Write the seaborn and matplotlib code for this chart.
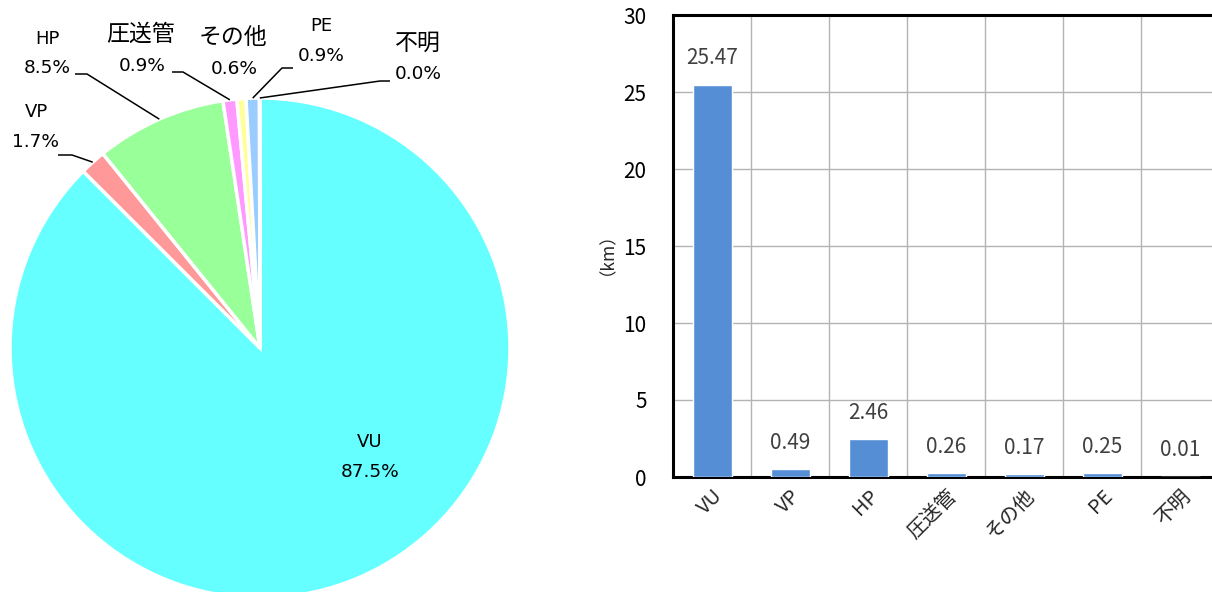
import numpy as np
import matplotlib
matplotlib.use("Agg")
import matplotlib.pyplot as plt
import seaborn as sns

# Pipe length by material
categories = ["VU", "VP", "HP", "圧送管", "その他", "PE", "不明"]
lengths_km = [25.47, 0.49, 2.46, 0.26, 0.17, 0.25, 0.01]
pie_colors = ["#66FFFF", "#FF9999", "#99FF99", "#FF99FF", "#FFFF99", "#99CCFF", "#CCCCFF"]
bar_color = "#558ED5"
yticks = [0, 5, 10, 15, 20, 25, 30]

sns.set_style("white")
plt.rcParams["font.family"] = ["Noto Sans CJK JP", "DejaVu Sans"]
LATIN = ["DejaVu Sans", "Noto Sans CJK JP"]

W, H = 1212, 592
fig = plt.figure(figsize=(W / 100, H / 100), dpi=100)

# ---------------- pie ----------------
R = 250.0
cx, cy = 260.0, 348.0  # pixel centre, measured from top-left
axp = fig.add_axes([(cx - R) / W, (H - cy - R) / H, 2 * R / W, 2 * R / H])
wedges, _ = axp.pie(
    lengths_km, colors=pie_colors, startangle=90, counterclock=False,
    wedgeprops=dict(edgecolor="white", linewidth=2.5),
)
axp.set_xlim(-1, 1)
axp.set_ylim(-1, 1)
axp.set_aspect("equal")
axp.axis("off")

total = sum(lengths_km)
pcts = [f"{100 * v / total:.1f}%" for v in lengths_km]


def px(x, y):
    """pixel position (from top-left) -> pie data coords"""
    return (x - cx) / R, (cy - y) / R


def mid_point(w, r=1.0):
    a = np.deg2rad((w.theta1 + w.theta2) / 2)
    return r * np.cos(a), r * np.sin(a)


# label layout: (name pos, pct pos, leader elbow points)
layout = {
    "VU": ((370, 442), (370, 472), None),
    "VP": ((36, 112), (36, 142), [(58, 155), (72, 155)]),
    "HP": ((47, 39), (47, 68), [(75, 74), (87, 74)]),
    "圧送管": ((141, 34), (142, 66), [(172, 72), (183, 72)]),
    "その他": ((233, 38), (234, 69), None),
    "PE": ((321, 26), (321, 56), [(293, 68), (282, 68)]),
    "不明": ((418, 43), (418, 74), [(390, 81), (380, 81)]),
}

for i, cat in enumerate(categories):
    npos, ppos, leader = layout[cat]
    is_cjk = cat in ("圧送管", "その他", "不明")
    if is_cjk:
        axp.text(*px(*npos), cat, ha="center", va="center",
                 fontsize=16.5, color="#000000")
    else:
        axp.text(*px(*npos), cat, ha="center", va="center",
                 fontsize=13, family=LATIN, color="#000000")
    axp.text(*px(*ppos), pcts[i], ha="center", va="center",
             fontsize=13.3, family=LATIN, color="#000000")
    if leader:
        pts = [px(*p) for p in leader] + [mid_point(wedges[i], 1.0)]
        xs, ys = zip(*pts)
        axp.plot(xs, ys, color="black", lw=1.1, clip_on=False,
                 solid_capstyle="butt")

# ---------------- bars ----------------
left, top, bottom = 673, 15, 477
cat_w = 78
axb = fig.add_axes([left / W, (H - bottom) / H, 7 * cat_w / W, (bottom - top) / H])
sns.barplot(x=categories, y=lengths_km, color=bar_color, width=0.5,
            saturation=1, ax=axb, zorder=3)
axb.set_xlim(-0.5, 6.5)
axb.set_ylim(0, 30)
axb.set_yticks(yticks)
axb.set_xticks(np.arange(0.5, 6.5, 1), minor=True)
axb.grid(True, which="minor", axis="x", color="#B3B3B3", lw=1.0, zorder=0)
axb.grid(True, which="major", axis="y", color="#B3B3B3", lw=1.0, zorder=0)
axb.grid(False, which="major", axis="x")
axb.set_axisbelow(True)
for s in axb.spines.values():
    s.set_visible(True)
    s.set_color("black")
    s.set_linewidth(2.2)

axb.tick_params(axis="y", length=0, pad=19, labelsize=15, labelcolor="black")
axb.tick_params(axis="x", which="both", length=0, pad=6, labelsize=14.5)
plt.setp(axb.get_xticklabels(), rotation=45, ha="right", rotation_mode="anchor")
axb.set_xlabel("")
axb.set_ylabel("（km）", fontsize=12.5, rotation=90, labelpad=0)
axb.yaxis.set_label_coords(-0.12, 0.503)

for i, v in enumerate(lengths_km):
    axb.annotate(f"{v:.2f}", (i, v), xytext=(0, 19), textcoords="offset points",
                 ha="center", va="center", fontsize=15, color="#404040")

fig.savefig("out.png", dpi=100)
